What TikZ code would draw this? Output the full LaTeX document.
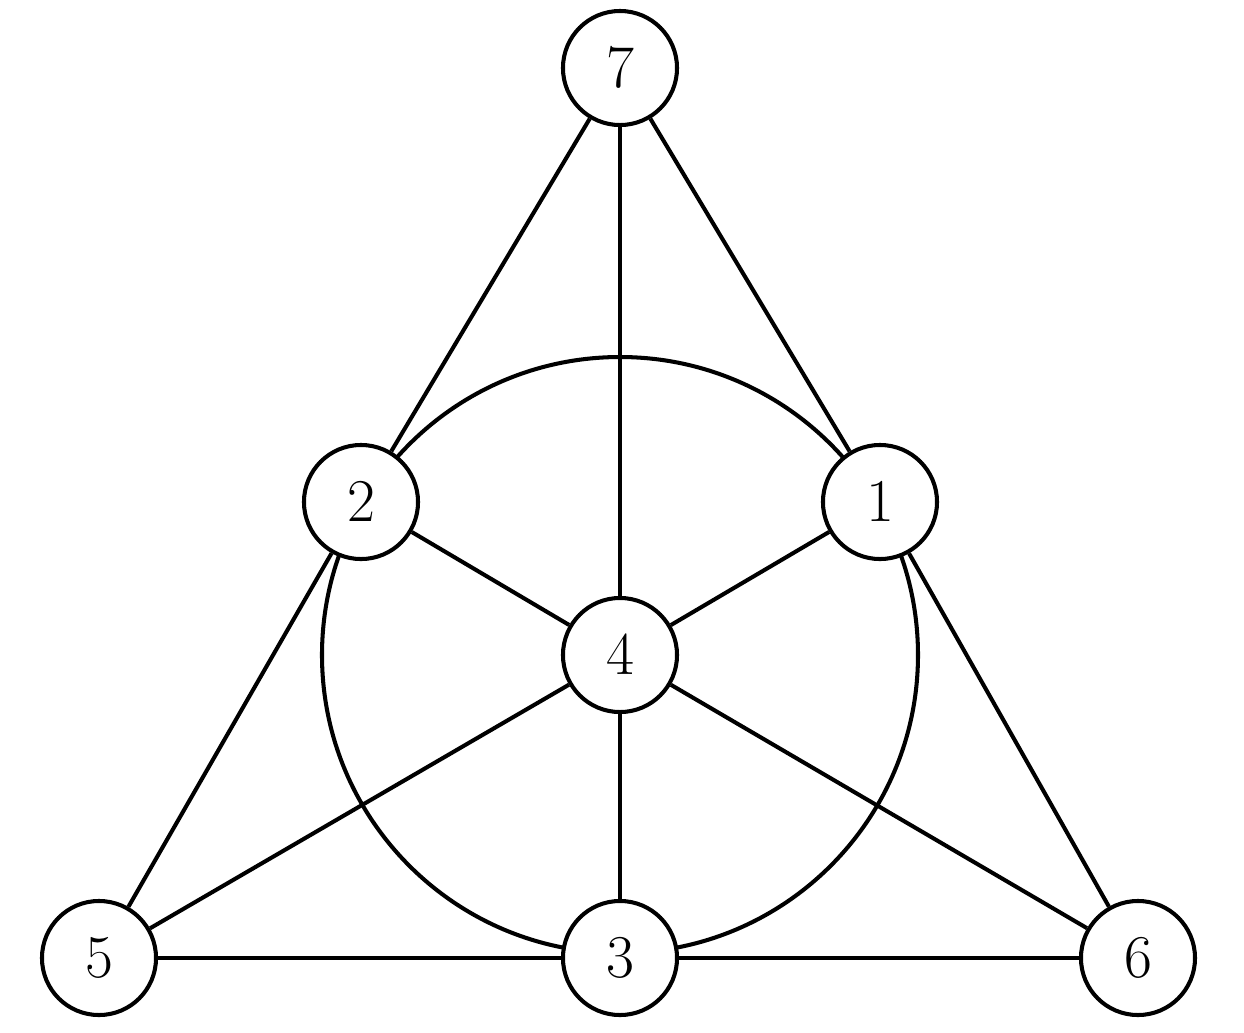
\documentclass[tikz,border=0pt]{standalone}
\usepackage{amsmath}
\usetikzlibrary{positioning}

\begin{document}
\begin{tikzpicture}[
    x = 0.01cm, y = -0.01cm, % pixel-like units
    line width = 1.15pt, % line style
    every node/.style = {font=\LARGE}
    ]

    \tikzset{vertex/.style={
    circle,
    draw = black,
    line width = 1.15pt,
    fill = white,
    minimum size = 1.14cm,
    inner sep = 0pt
    }}
    \useasboundingbox (0,0) rectangle (1244,1032);

    \draw (620,655) circle (298);

    \node[vertex] (v7) at (620,68) {$7$};
    \node[vertex] (v2) at (361,502) {$2$};
    \node[vertex] (v1) at (880,502) {$1$};
    \node[vertex] (v4) at (620,655) {$4$};
    \node[vertex] (v5) at (99,958) {$5$};
    \node[vertex] (v3) at (620,958) {$3$};
    \node[vertex] (v6) at (1138,958) {$6$};

    \draw (v7) -- (v2) (v2) -- (v5);
    \draw (v7) -- (v1) (v1) -- (v6);
    \draw (v5) -- (v3) (v3) -- (v6);
    \draw (v7) -- (v4) (v4) -- (v3);
    \draw (v2) -- (v4) (v4) -- (v6);
    \draw (v1) -- (v4) (v4) -- (v5);
\end{tikzpicture}
\end{document}
